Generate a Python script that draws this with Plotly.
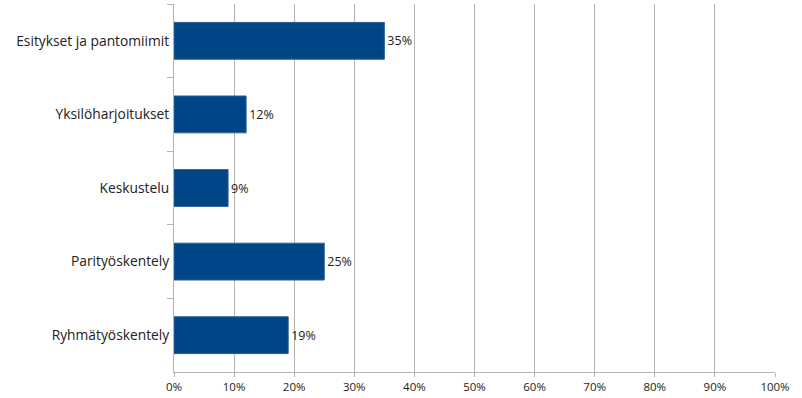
import plotly.graph_objects as go

categories = ["Esitykset ja pantomiimit", "Yksilöharjoitukset", "Keskustelu", "Parityöskentely", "Ryhmätyöskentely"]
values = [35, 12, 9, 25, 19]
labels = ["35%", "12%", "9%", "25%", "19%"]
tick_vals = [0, 10, 20, 30, 40, 50, 60, 70, 80, 90, 100]
tick_text = ["0%", "10%", "20%", "30%", "40%", "50%", "60%", "70%", "80%", "90%", "100%"]

fig = go.Figure(go.Bar(
    y=categories, x=values, orientation="h",
    marker=dict(color="#004586", line=dict(color="#2a5f96", width=1)),
    width=0.5,
    text=labels, textposition="outside", cliponaxis=False,
    textfont=dict(family="Open Sans", size=12.5, color="#222"),
))

fig.update_layout(
    width=802, height=398,
    margin=dict(l=174, r=27, t=4, b=26, autoexpand=False),
    plot_bgcolor="white", paper_bgcolor="white",
    font=dict(family="Open Sans", size=13, color="#222"),
    showlegend=False,
    bargap=0.5,
)
fig.update_xaxes(
    range=[0, 100], tickvals=tick_vals, ticktext=tick_text,
    showgrid=True, gridcolor="#b3b3b3", gridwidth=1,
    showline=True, linecolor="#b3b3b3", linewidth=1,
    ticks="outside", ticklen=4, tickcolor="#b3b3b3",
    tickfont=dict(size=11.5), zeroline=False,
)
fig.update_yaxes(
    autorange="reversed", categoryorder="array", categoryarray=categories,
    showline=True, linecolor="#b3b3b3", linewidth=1,
    ticks="outside", ticklen=6, tickcolor="#b3b3b3", tickson="boundaries",
    showgrid=False, tickfont=dict(size=13.8), ticklabelstandoff=1,
)
fig.write_html("out.html", config={"displayModeBar": False},
               post_script="document.body.style.margin='0';")
